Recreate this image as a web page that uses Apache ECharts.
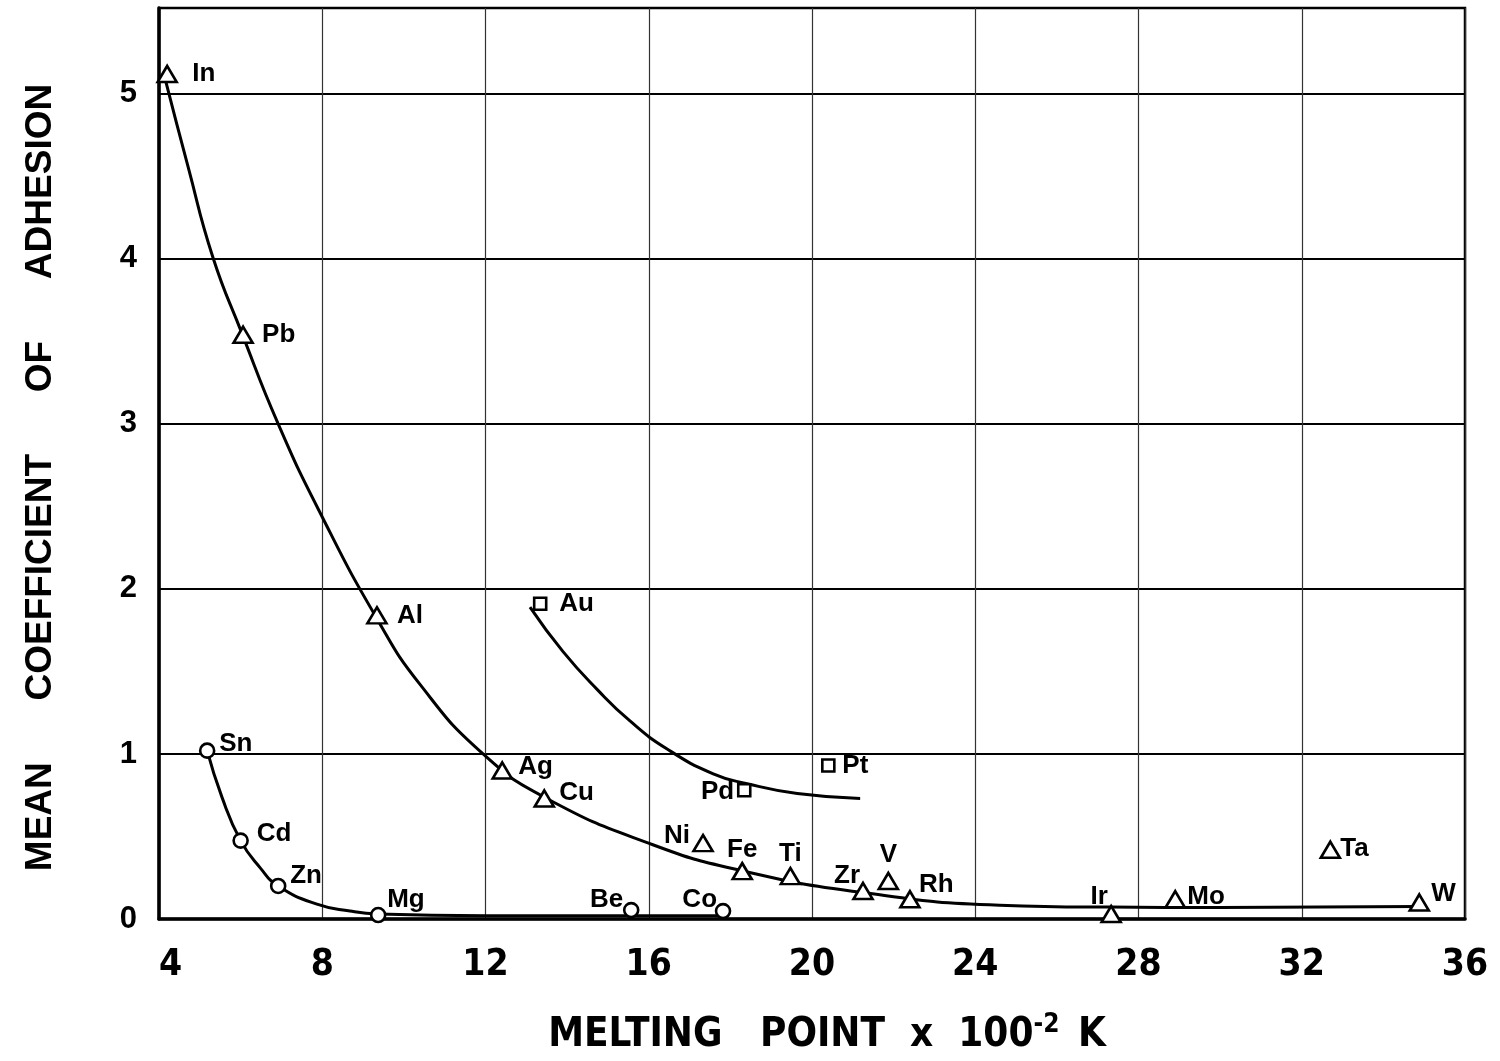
<!DOCTYPE html>
<html>
<head>
<meta charset="utf-8">
<script src="https://cdn.jsdelivr.net/npm/echarts/dist/echarts.min.js"></script>
<style>
  html, body { margin: 0; padding: 0; background: #fff; }
  #main { width: 1500px; height: 1061px; }
</style>
</head>
<body>
<div id="main"></div>
<script>
// melting point (x 100 K) and mean coefficient of adhesion
const triNames = ['In', 'Pb', 'Al', 'Ag', 'Cu', 'Ni', 'Fe', 'Ti', 'Zr', 'V', 'Rh', 'Ir', 'Mo', 'Ta', 'W'];
const triX = [4.2, 6.06, 9.34, 12.41, 13.44, 17.33, 18.29, 19.47, 21.25, 21.87, 22.4, 27.33, 28.9, 32.7, 34.88];
const triY = [5.12, 3.54, 1.84, 0.90, 0.73, 0.46, 0.29, 0.26, 0.17, 0.23, 0.12, 0.03, 0.12, 0.42, 0.10];

const circNames = ['Sn', 'Cd', 'Zn', 'Mg', 'Be', 'Co'];
const circX = [5.18, 6.0, 6.92, 9.37, 15.57, 17.82];
const circY = [1.02, 0.475, 0.20, 0.024, 0.054, 0.048];

const sqNames = ['Au', 'Pd', 'Pt'];
const sqX = [13.34, 18.34, 20.4];
const sqY = [1.91, 0.78, 0.93];

// hand drawn curves
const triCurveX = [4.15, 4.71, 5.32, 6.03, 6.92, 7.95, 9.34, 10.4, 11.94, 13.5, 16.1, 18.24, 21.25, 24.6, 27.3, 30.0, 34.9];
const triCurveY = [5.09, 4.56, 4.01, 3.55, 3.0, 2.46, 1.82, 1.42, 1.0, 0.73, 0.45, 0.295, 0.16, 0.084, 0.072, 0.07, 0.075];

const circCurveX = [5.18, 5.54, 6.0, 6.48, 6.92, 7.87, 8.68, 9.37, 12.0, 17.8];
const circCurveY = [1.02, 0.74, 0.475, 0.31, 0.20, 0.09, 0.048, 0.03, 0.02, 0.02];

const sqCurveX = [13.09, 13.9, 14.74, 15.54, 16.45, 17.58, 18.41, 19.64, 21.18];
const sqCurveY = [1.89, 1.62, 1.39, 1.20, 1.03, 0.88, 0.82, 0.76, 0.73];

const xTicks = [4, 8, 12, 16, 20, 24, 28, 32, 36];
const yTicks = [0, 1, 2, 3, 4, 5];

// where each element symbol sits relative to its marker: [dx, dy, align]
const labelPlace = {
  In: [25, 0, 'left'], Pb: [19, 0, 'left'], Al: [20, 0, 'left'], Ag: [16, -4, 'left'],
  Cu: [15, -6, 'left'], Ni: [-13, -7, 'right'], Fe: [0, -21, 'center'], Ti: [0, -22, 'center'],
  Zr: [-16, -15, 'center'], V: [0, -26, 'center'], Rh: [9, -14, 'left'], Ir: [-12, -17, 'center'],
  Mo: [12, -2, 'left'], Ta: [10, -1, 'left'], W: [12, -9, 'left'],
  Sn: [12, -7, 'left'], Cd: [16, -7, 'left'], Zn: [12, -10, 'left'], Mg: [9, -15, 'left'],
  Be: [-8, -10, 'right'], Co: [-6, -11, 'right'],
  Au: [19, 0, 'left'], Pd: [-10, 2, 'right'], Pt: [14, 0, 'left']
};

const fontMain = '"Liberation Sans", Arial, sans-serif';
const fontNarrow = '"Liberation Sans Narrow", "DejaVu Sans Condensed", "Liberation Sans", sans-serif';

function zip(xs, ys) {
  return xs.map((x, i) => [x, ys[i]]);
}

function points(names, xs, ys) {
  return names.map((n, i) => {
    const p = labelPlace[n];
    return {
      name: n,
      value: [xs[i], ys[i]],
      label: { offset: [p[0], p[1]], align: p[2] }
    };
  });
}

function curve(data) {
  return {
    type: 'line',
    data: data,
    smooth: 0.5,
    showSymbol: false,
    silent: true,
    z: 3,
    lineStyle: { color: '#000', width: 3 }
  };
}

function marks(data, symbol, size) {
  return {
    type: 'scatter',
    data: data,
    symbol: symbol,
    symbolSize: size,
    z: 5,
    itemStyle: { color: '#fff', borderColor: '#000', borderWidth: 2.6, opacity: 1 },
    label: {
      show: true,
      position: 'inside',
      verticalAlign: 'middle',
      formatter: '{b}',
      color: '#000',
      fontSize: 26,
      fontWeight: 'bold',
      fontFamily: fontMain
    }
  };
}

const myChart = echarts.init(document.getElementById('main'));

const option = {
  backgroundColor: '#fff',
  animation: false,
  grid: {
    left: 159, right: 35, top: 8, bottom: 134,
    show: true, borderColor: '#000', borderWidth: 2.5, backgroundColor: 'transparent'
  },
  xAxis: {
    type: 'value',
    min: xTicks[0],
    max: xTicks[xTicks.length - 1],
    interval: 4,
    name: 'MELTING   POINT  x  100{sup|-2} K',
    nameLocation: 'middle',
    nameGap: 93,
    nameTextStyle: {
      color: '#000', fontSize: 40, fontWeight: 'bold', fontFamily: fontNarrow,
      padding: [0, 0, 0, 30],
      rich: {
        sup: { fontSize: 26, fontWeight: 'bold', fontFamily: fontNarrow, color: '#000', verticalAlign: 'top', padding: [0, 6, 22, 0] }
      }
    },
    axisLine: { show: true, onZero: false, lineStyle: { color: '#000', width: 3.5 } },
    axisTick: { show: false },
    axisLabel: {
      color: '#000', fontSize: 37, fontWeight: 'bold', fontFamily: fontNarrow,
      margin: 28, alignMinLabel: 'left'
    },
    splitLine: { show: true, lineStyle: { color: '#333', width: 1.2 } }
  },
  yAxis: {
    type: 'value',
    min: yTicks[0],
    max: 5.52,
    interval: 1,
    name: 'MEAN      COEFFICIENT      OF      ADHESION',
    nameLocation: 'middle',
    nameRotate: 90,
    nameGap: 100,
    nameTextStyle: {
      color: '#000', fontSize: 37, fontWeight: 'bold', fontFamily: fontMain,
      padding: [0, 28, 0, 0]
    },
    axisLine: { show: true, lineStyle: { color: '#000', width: 3.5 } },
    axisTick: { show: false },
    axisLabel: {
      color: '#000', fontSize: 31, fontWeight: 'bold', fontFamily: fontMain, margin: 22,
      formatter: (v) => (yTicks.indexOf(v) >= 0 ? String(v) : '')
    },
    splitLine: { show: true, lineStyle: { color: '#000', width: 2 } }
  },
  series: [
    curve(zip(triCurveX, triCurveY)),
    curve(zip(circCurveX, circCurveY)),
    curve(zip(sqCurveX, sqCurveY)),
    marks(points(triNames, triX, triY), 'triangle', [19, 16]),
    marks(points(circNames, circX, circY), 'circle', 14),
    marks(points(sqNames, sqX, sqY), 'rect', 12)
  ]
};

myChart.setOption(option);
</script>
</body>
</html>
